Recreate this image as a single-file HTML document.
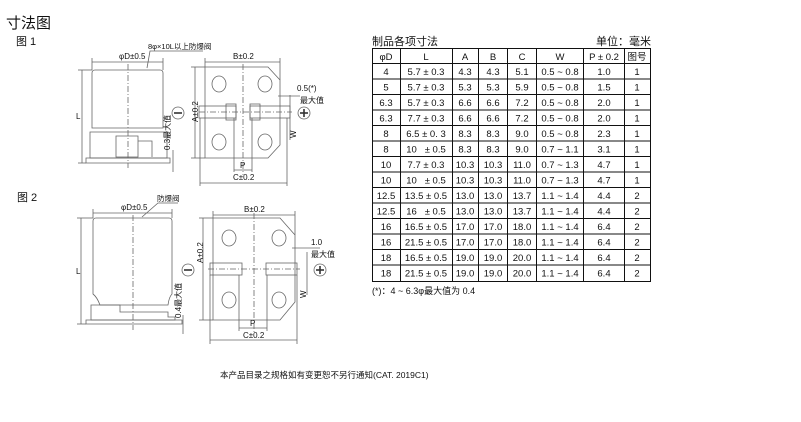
<!DOCTYPE html>
<html><head><meta charset="utf-8"><style>
html,body{margin:0;padding:0;background:#fff;}
svg{display:block;}
text{font-family:"Liberation Sans","Noto Sans CJK SC",sans-serif;fill:#111;}
</style></head><body>
<svg width="801" height="422" viewBox="0 0 801 422" xmlns="http://www.w3.org/2000/svg">
<text x="6" y="28" font-size="15">寸法图</text>
<text x="16" y="45" font-size="11">图 1</text>
<text x="17" y="201" font-size="11">图 2</text>

<g stroke="#666" stroke-width="0.8" fill="none">
<!-- FIG1 side -->
<path d="M95,70 H160 Q163,70 163,73 V128 H96 H92 V73 Q92,70 95,70 Z"/>
<path d="M90,132 H167 V158 H90 Z"/>
<path d="M116,136 H138 V157 H116 Z"/>
<path d="M138,141 H152 V157"/>
<path d="M86,158 H170 V163 H86 Z"/>
<line x1="92" y1="62" x2="163" y2="62"/>
<line x1="92" y1="58" x2="92" y2="70"/><line x1="163" y1="58" x2="163" y2="70"/>
<line x1="82" y1="70" x2="82" y2="163"/>
<line x1="78" y1="70" x2="92" y2="70"/><line x1="78" y1="163" x2="86" y2="163"/>
<path d="M147,68 L150,51 H203"/>
<line x1="128" y1="64" x2="128" y2="168" stroke-dasharray="6,2,1,2"/>
<line x1="173" y1="150" x2="173" y2="172"/>
<circle cx="178" cy="113" r="6"/>
<!-- FIG1 bottom -->
<path d="M205,67 H268 L280,80 V145 L268,158 H205 Z"/>
<rect x="199" y="106" width="37" height="12"/><rect x="250" y="106" width="40" height="12"/>
<rect x="226" y="104" width="10" height="16"/><rect x="250" y="104" width="10" height="16"/>
<ellipse cx="219" cy="84" rx="7" ry="8"/><ellipse cx="265" cy="84" rx="7" ry="8"/>
<ellipse cx="219" cy="142" rx="7" ry="8"/><ellipse cx="265" cy="142" rx="7" ry="8"/>
<line x1="243" y1="64" x2="243" y2="175" stroke-dasharray="6,2,1,2"/>
<line x1="199" y1="112" x2="292" y2="112" stroke-dasharray="6,2,1,2"/>
<line x1="205" y1="62" x2="280" y2="62"/>
<line x1="205" y1="58" x2="205" y2="67"/><line x1="280" y1="58" x2="280" y2="80"/>
<line x1="195" y1="67" x2="195" y2="158"/>
<line x1="191" y1="67" x2="205" y2="67"/><line x1="191" y1="158" x2="205" y2="158"/>
<line x1="234" y1="170" x2="252" y2="170"/>
<line x1="234" y1="118" x2="234" y2="172"/><line x1="252" y1="118" x2="252" y2="172"/>
<line x1="200" y1="183" x2="287" y2="183"/>
<line x1="200" y1="118" x2="200" y2="186"/><line x1="287" y1="118" x2="287" y2="186"/>
<line x1="290" y1="95" x2="290" y2="140"/>
<line x1="278" y1="96" x2="300" y2="96"/>
<circle cx="304" cy="113" r="6"/>
<!-- FIG2 side -->
<path d="M96,218 H169 Q172,218 172,221 V294 Q169,297 168,305 H100 Q97,297 93,294 V221 Q93,218 96,218 Z"/>
<path d="M91,305 H120 V312 H168 V317 H175 V320 H91 Z"/>
<path d="M86,320 H182 V324 H86 Z"/>
<line x1="93" y1="213" x2="172" y2="213"/>
<line x1="93" y1="209" x2="93" y2="218"/><line x1="172" y1="209" x2="172" y2="218"/>
<line x1="81" y1="218" x2="81" y2="324"/>
<line x1="77" y1="218" x2="93" y2="218"/><line x1="77" y1="324" x2="86" y2="324"/>
<path d="M142,217 L158,203 H178"/>
<line x1="133" y1="215" x2="133" y2="330" stroke-dasharray="6,2,1,2"/>
<line x1="183" y1="315" x2="183" y2="334"/>
<circle cx="188" cy="270" r="6"/>
<!-- FIG2 bottom -->
<path d="M213,218 H280 L295,235 V302 L280,320 H213 Z"/>
<rect x="210" y="263" width="32" height="12"/><rect x="266" y="263" width="31" height="12"/>
<ellipse cx="229" cy="238" rx="7" ry="8"/><ellipse cx="279" cy="238" rx="7" ry="8"/>
<ellipse cx="229" cy="300" rx="7" ry="8"/><ellipse cx="279" cy="300" rx="7" ry="8"/>
<line x1="254" y1="213" x2="254" y2="333" stroke-dasharray="6,2,1,2"/>
<line x1="208" y1="269" x2="300" y2="269" stroke-dasharray="6,2,1,2"/>
<line x1="213" y1="215" x2="295" y2="215"/>
<line x1="213" y1="211" x2="213" y2="218"/><line x1="295" y1="211" x2="295" y2="235"/>
<line x1="203" y1="218" x2="203" y2="320"/>
<line x1="199" y1="218" x2="213" y2="218"/><line x1="199" y1="320" x2="213" y2="320"/>
<line x1="239" y1="328" x2="267" y2="328"/>
<line x1="239" y1="275" x2="239" y2="331"/><line x1="267" y1="275" x2="267" y2="331"/>
<line x1="210" y1="340" x2="297" y2="340"/>
<line x1="210" y1="275" x2="210" y2="344"/><line x1="297" y1="275" x2="297" y2="344"/>
<line x1="307" y1="252" x2="307" y2="295"/>
<line x1="292" y1="248" x2="320" y2="248"/>
<circle cx="320" cy="270" r="6"/>
</g>
<g stroke="#333" stroke-width="1.6">
<line x1="174" y1="113" x2="182" y2="113"/>
<line x1="300" y1="113" x2="308" y2="113"/><line x1="304" y1="109" x2="304" y2="117"/>
<line x1="184" y1="270" x2="192" y2="270"/>
<line x1="316" y1="270" x2="324" y2="270"/><line x1="320" y1="266" x2="320" y2="274"/>
</g>
<g font-size="8">
<text x="119" y="59">φD±0.5</text>
<text x="148" y="49" font-size="7.5">8φ×10L以上防爆阀</text>
<text x="76" y="119">L</text>
<text x="233" y="59">B±0.2</text>
<text x="297" y="91">0.5(*)</text>
<text x="300" y="103">最大值</text>
<text x="240" y="168">P</text>
<text x="233" y="180">C±0.2</text>
<text x="170" y="150" transform="rotate(-90 170 150)">0.3最大值</text>
<text x="198" y="122" transform="rotate(-90 198 122)">A±0.2</text>
<text x="296" y="138" transform="rotate(-90 296 138)">W</text>
<text x="121" y="210">φD±0.5</text>
<text x="157" y="201" font-size="7.5">防爆阀</text>
<text x="76" y="274">L</text>
<text x="244" y="212">B±0.2</text>
<text x="311" y="245">1.0</text>
<text x="311" y="257">最大值</text>
<text x="250" y="326">P</text>
<text x="243" y="338">C±0.2</text>
<text x="181" y="318" transform="rotate(-90 181 318)">0.4最大值</text>
<text x="203" y="263" transform="rotate(-90 203 263)">A±0.2</text>
<text x="306" y="298" transform="rotate(-90 306 298)">W</text>
</g>

<!-- Table -->
<text x="372" y="45" font-size="11">制品各项寸法</text>
<text x="651" y="45" font-size="11" text-anchor="end">单位：毫米</text>
<g stroke="#111" stroke-width="1" fill="none">
<rect x="372.5" y="48.5" width="278" height="233"/>
<line x1="400.5" y1="48" x2="400.5" y2="282"/><line x1="452.5" y1="48" x2="452.5" y2="282"/>
<line x1="478.5" y1="48" x2="478.5" y2="282"/><line x1="507.5" y1="48" x2="507.5" y2="282"/>
<line x1="536.5" y1="48" x2="536.5" y2="282"/><line x1="583.5" y1="48" x2="583.5" y2="282"/>
<line x1="624.5" y1="48" x2="624.5" y2="282"/>
<line x1="372" y1="63.5" x2="651" y2="63.5"/><line x1="372" y1="79" x2="651" y2="79"/>
<line x1="372" y1="94.5" x2="651" y2="94.5"/><line x1="372" y1="110" x2="651" y2="110"/>
<line x1="372" y1="125.5" x2="651" y2="125.5"/><line x1="372" y1="141" x2="651" y2="141"/>
<line x1="372" y1="156.5" x2="651" y2="156.5"/><line x1="372" y1="172" x2="651" y2="172"/>
<line x1="372" y1="187.5" x2="651" y2="187.5"/><line x1="372" y1="203" x2="651" y2="203"/>
<line x1="372" y1="218.5" x2="651" y2="218.5"/><line x1="372" y1="234" x2="651" y2="234"/>
<line x1="372" y1="249.5" x2="651" y2="249.5"/><line x1="372" y1="265" x2="651" y2="265"/>
</g>
<g font-size="9.5" text-anchor="middle">
<text y="60"><tspan x="386">φD</tspan><tspan x="426">L</tspan><tspan x="465">A</tspan><tspan x="493">B</tspan><tspan x="522">C</tspan><tspan x="560">W</tspan><tspan x="604">P ± 0.2</tspan><tspan x="637">图号</tspan></text>
<text y="75"><tspan x="386">4</tspan><tspan x="426">5.7 ± 0.3</tspan><tspan x="465">4.3</tspan><tspan x="493">4.3</tspan><tspan x="522">5.1</tspan><tspan x="560">0.5 ~ 0.8</tspan><tspan x="604">1.0</tspan><tspan x="637">1</tspan></text>
<text y="90.5"><tspan x="386">5</tspan><tspan x="426">5.7 ± 0.3</tspan><tspan x="465">5.3</tspan><tspan x="493">5.3</tspan><tspan x="522">5.9</tspan><tspan x="560">0.5 ~ 0.8</tspan><tspan x="604">1.5</tspan><tspan x="637">1</tspan></text>
<text y="106"><tspan x="386">6.3</tspan><tspan x="426">5.7 ± 0.3</tspan><tspan x="465">6.6</tspan><tspan x="493">6.6</tspan><tspan x="522">7.2</tspan><tspan x="560">0.5 ~ 0.8</tspan><tspan x="604">2.0</tspan><tspan x="637">1</tspan></text>
<text y="121.5"><tspan x="386">6.3</tspan><tspan x="426">7.7 ± 0.3</tspan><tspan x="465">6.6</tspan><tspan x="493">6.6</tspan><tspan x="522">7.2</tspan><tspan x="560">0.5 ~ 0.8</tspan><tspan x="604">2.0</tspan><tspan x="637">1</tspan></text>
<text y="137"><tspan x="386">8</tspan><tspan x="426">6.5 ± 0. 3</tspan><tspan x="465">8.3</tspan><tspan x="493">8.3</tspan><tspan x="522">9.0</tspan><tspan x="560">0.5 ~ 0.8</tspan><tspan x="604">2.3</tspan><tspan x="637">1</tspan></text>
<text y="152.5"><tspan x="426">10&#160;&#160;&#160;± 0.5</tspan><tspan x="386">8</tspan><tspan x="465">8.3</tspan><tspan x="493">8.3</tspan><tspan x="522">9.0</tspan><tspan x="560">0.7 ~ 1.1</tspan><tspan x="604">3.1</tspan><tspan x="637">1</tspan></text>
<text y="168"><tspan x="386">10</tspan><tspan x="426">7.7 ± 0.3</tspan><tspan x="465">10.3</tspan><tspan x="493">10.3</tspan><tspan x="522">11.0</tspan><tspan x="560">0.7 ~ 1.3</tspan><tspan x="604">4.7</tspan><tspan x="637">1</tspan></text>
<text y="183.5"><tspan x="386">10</tspan><tspan x="426">10&#160;&#160;&#160;± 0.5</tspan><tspan x="465">10.3</tspan><tspan x="493">10.3</tspan><tspan x="522">11.0</tspan><tspan x="560">0.7 ~ 1.3</tspan><tspan x="604">4.7</tspan><tspan x="637">1</tspan></text>
<text y="199"><tspan x="386">12.5</tspan><tspan x="426">13.5 ± 0.5</tspan><tspan x="465">13.0</tspan><tspan x="493">13.0</tspan><tspan x="522">13.7</tspan><tspan x="560">1.1 ~ 1.4</tspan><tspan x="604">4.4</tspan><tspan x="637">2</tspan></text>
<text y="214.5"><tspan x="386">12.5</tspan><tspan x="426">16&#160;&#160;&#160;± 0.5</tspan><tspan x="465">13.0</tspan><tspan x="493">13.0</tspan><tspan x="522">13.7</tspan><tspan x="560">1.1 ~ 1.4</tspan><tspan x="604">4.4</tspan><tspan x="637">2</tspan></text>
<text y="230"><tspan x="386">16</tspan><tspan x="426">16.5 ± 0.5</tspan><tspan x="465">17.0</tspan><tspan x="493">17.0</tspan><tspan x="522">18.0</tspan><tspan x="560">1.1 ~ 1.4</tspan><tspan x="604">6.4</tspan><tspan x="637">2</tspan></text>
<text y="245.5"><tspan x="386">16</tspan><tspan x="426">21.5 ± 0.5</tspan><tspan x="465">17.0</tspan><tspan x="493">17.0</tspan><tspan x="522">18.0</tspan><tspan x="560">1.1 ~ 1.4</tspan><tspan x="604">6.4</tspan><tspan x="637">2</tspan></text>
<text y="261"><tspan x="386">18</tspan><tspan x="426">16.5 ± 0.5</tspan><tspan x="465">19.0</tspan><tspan x="493">19.0</tspan><tspan x="522">20.0</tspan><tspan x="560">1.1 ~ 1.4</tspan><tspan x="604">6.4</tspan><tspan x="637">2</tspan></text>
<text y="276.5"><tspan x="386">18</tspan><tspan x="426">21.5 ± 0.5</tspan><tspan x="465">19.0</tspan><tspan x="493">19.0</tspan><tspan x="522">20.0</tspan><tspan x="560">1.1 ~ 1.4</tspan><tspan x="604">6.4</tspan><tspan x="637">2</tspan></text>
</g>
<text x="372" y="294" font-size="9">(*)：4 ~ 6.3φ最大值为 0.4</text>
<text x="220" y="378" font-size="8.5">本产品目录之规格如有变更恕不另行通知(CAT. 2019C1)</text>
</svg>
</body></html>
